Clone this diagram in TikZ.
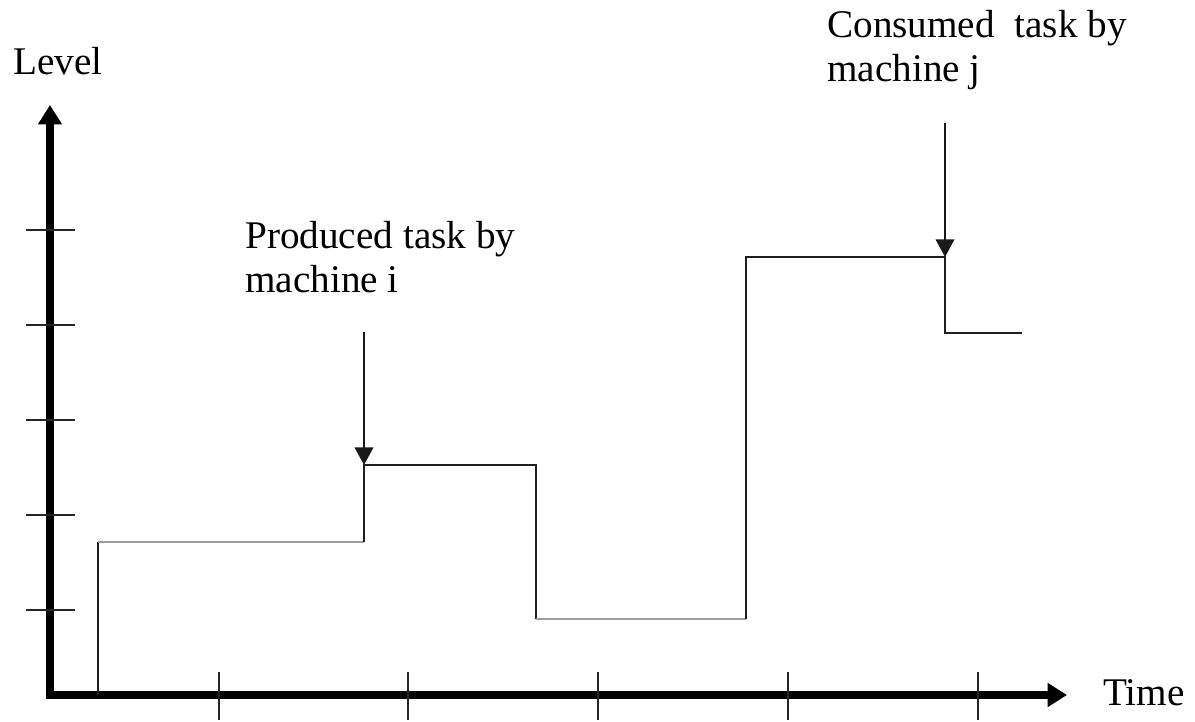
\documentclass[tikz,border=0pt]{standalone}
\usepackage{fontspec}
\setmainfont{Liberation Serif}
\usetikzlibrary{arrows.meta}
\tikzset{
	every node/.style={inner sep=0pt, font=\fontsize{22.3}{25.5}\selectfont}, % Times-lignende tekst
	axis/.style={ % akserne med kraftige pile
			line width=4pt,
			line join=miter,
			{Triangle[length=11pt, width=13pt]}-{Triangle[length=11pt, width=13pt]}
		},
	tick/.style={line width=0.9pt, black!85},
	level line/.style={line width=1.3pt, black!88},
	idle line/.style={line width=1.3pt, black!38},
	event/.style={ % pil til en haendelse
			line width=1.3pt,
			black!90,
			-{Triangle[length=10pt, width=10.5pt]}
		}
}
\begin{document}
\begin{tikzpicture}[x=0.02cm, y=-0.02cm]
	\useasboundingbox (0,0) rectangle (1195,722);
	% akser
	\coordinate (origin) at (50,695);
	\coordinate (yTip) at (50,105);
	\coordinate (xTip) at (1067,695);
	\draw[axis] (yTip) -- (origin) -- (xTip);
	\foreach \y in {230,325,420,515,610}
		\draw[tick] (26,\y) -- (75,\y);
	\foreach \x in {219,408,598,788,978}
		\draw[tick] (\x,672) -- (\x,720);
	\node[anchor=base west] (level) at (13,75) {Level};
	\node[anchor=base west] (time) at (1103,705) {Time};
	% niveaukurven
	\coordinate (s0) at (98,695);
	\coordinate (s1) at (98,542);
	\coordinate (s2) at (364,542);
	\coordinate (s3) at (364,465);
	\coordinate (s4) at (536,465);
	\coordinate (s5) at (536,619);
	\coordinate (s6) at (746,619);
	\coordinate (s7) at (746,257);
	\coordinate (s8) at (945,257);
	\coordinate (s9) at (945,333);
	\coordinate (s10) at (1022,333);
	\draw[level line] (s0) -- (s1);
	\draw[idle line] (s1) -- (s2);
	\draw[level line] (s2) -- (s3) -- (s4) -- (s5);
	\draw[idle line] (s5) -- (s6);
	\draw[level line] (s6) -- (s7) -- (s8) -- (s9) -- (s10);
	% haendelser
	\node[anchor=base west, align=left] (produced) at (245,293) {Produced task by\\machine i};
	\node[anchor=base west, align=left] (consumed) at (827,82) {Consumed\ \ task by\\machine j};
	\coordinate (prodStart) at (364,332);
	\coordinate (consStart) at (945,123);
	\draw[event] (prodStart) -- (s3);
	\draw[event] (consStart) -- (s8);
\end{tikzpicture}
\end{document}
